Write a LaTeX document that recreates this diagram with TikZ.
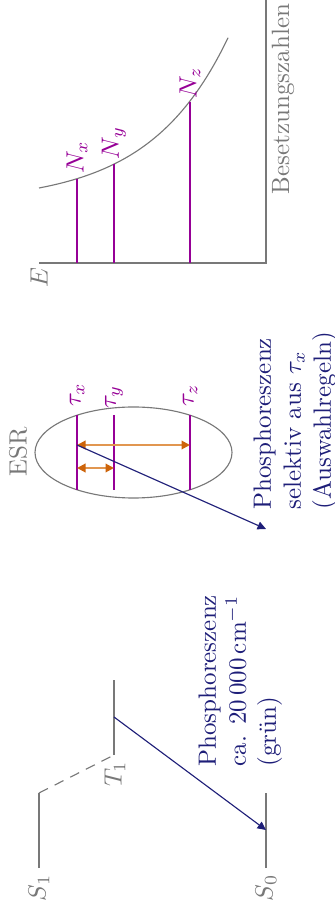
\documentclass[tikz,border=0pt]{standalone}
\usetikzlibrary{arrows.meta}
\definecolor{axgray}{RGB}{120,120,120}
\definecolor{lvlpurple}{RGB}{150,0,150}
\definecolor{phnavy}{RGB}{30,30,120}
\definecolor{orgdark}{RGB}{205,100,10}
\definecolor{orglight}{RGB}{225,150,80}
\begin{document}
\begin{tikzpicture}[x=0.4pt,y=-0.4pt,
  level/.style={draw=axgray,line width=0.45pt},
  purp/.style={draw=lvlpurple,line width=0.45pt},
  graylab/.style={text=axgray,rotate=90,inner sep=0pt,font=\fontsize{10}{12}\selectfont},
  purplab/.style={text=lvlpurple,rotate=90,inner sep=0pt,font=\fontsize{10}{12}\selectfont},
  navytext/.style={text=phnavy,rotate=90,inner sep=0pt,align=left,anchor=north west,font=\fontsize{10}{12}\selectfont},
  phos/.style={draw=phnavy,line width=0.45pt,-{Triangle[length=3.4pt,width=3.2pt]}},
  esrarr/.style={draw=orglight,line width=0.8pt,{Triangle[length=3.4pt,width=3.4pt,color=orgdark]}-{Triangle[length=3.4pt,width=3.4pt,color=orgdark]}}
]
\useasboundingbox (0,0) rectangle (334,910);

% ---------- Jablonski part (bottom) ----------
\coordinate (s1a) at (39,868); \coordinate (s1b) at (39,793);
\coordinate (t1a) at (114,755); \coordinate (t1b) at (114,680);
\coordinate (s0a) at (266,868); \coordinate (s0b) at (266,793);
\coordinate (t1src) at (114,717); \coordinate (s0dst) at (266,830);
\draw[level] (s1a) -- (s1b);
\draw[level,dash pattern=on 4pt off 3pt] (s1b) -- (t1a);
\draw[level] (t1a) -- (t1b);
\draw[level] (s0a) -- (s0b);
\draw[phos] (t1src) -- (s0dst);
\node[graylab] (S1) at (39,888) {$S_1$};
\node[graylab] (S0) at (266,888) {$S_0$};
\node[graylab] (T1) at (115,774) {$T_1$};
\node[navytext] (ph1) at (198,767) {Phosphoreszenz\\ca. 20\,000\,cm$^{-1}$\\(grün)};

% ---------- ESR part (middle) ----------
\coordinate (esrc) at (133.5,452.5);
\draw[axgray,line width=0.45pt] (esrc) ellipse [x radius=39.4pt, y radius=18.2pt];
\coordinate (txa) at (77,415); \coordinate (txb) at (77,490);
\coordinate (tya) at (114,415); \coordinate (tyb) at (114,490);
\coordinate (tza) at (190,415); \coordinate (tzb) at (190,490);
\draw[purp] (txa) -- (txb);
\draw[purp] (tya) -- (tyb);
\draw[purp] (tza) -- (tzb);
\node[purplab] (tx) at (77,395) {$\tau_x$};
\node[purplab] (ty) at (114,397) {$\tau_y$};
\node[purplab] (tz) at (190,395) {$\tau_z$};
\coordinate (exa) at (77,445); \coordinate (exb) at (190,445);
\coordinate (eya) at (77,468); \coordinate (eyb) at (114,468);
\draw[esrarr] (exa) -- (exb);
\draw[esrarr] (eya) -- (eyb);
\coordinate (phdst) at (266,529);
\draw[phos] (exa) -- (phdst);
\node[graylab] (ESR) at (18,452) {ESR};
\node[navytext] (ph2) at (253,510) {Phosphoreszenz\\selektiv aus $\tau_x$\\(Auswahlregeln)};

% ---------- population part (top) ----------
\coordinate (orig) at (266,263);
\coordinate (vtop) at (266,0);
\coordinate (hleft) at (39,263);
\draw[level] (vtop) -- (orig) -- (hleft);
\draw[axgray,line width=0.45pt] plot[domain=0:189,samples=80,smooth] ({39+\x},{203-15*exp(0.0127*\x)});
\coordinate (nxa) at (77,178.7); \coordinate (nxb) at (77,263);
\coordinate (nya) at (114,164.1); \coordinate (nyb) at (114,263);
\coordinate (nza) at (190,102); \coordinate (nzb) at (190,263);
\draw[purp] (nxa) -- (nxb);
\draw[purp] (nya) -- (nyb);
\draw[purp] (nza) -- (nzb);
\node[purplab] (Nx) at (77,157) {$N_x$};
\node[purplab] (Ny) at (114,143) {$N_y$};
\node[purplab] (Nz) at (190,83) {$N_z$};
\node[graylab] (E) at (39,278) {$E$};
\node[graylab] (Bz) at (283,99) {Besetzungszahlen};
\end{tikzpicture}
\end{document}
